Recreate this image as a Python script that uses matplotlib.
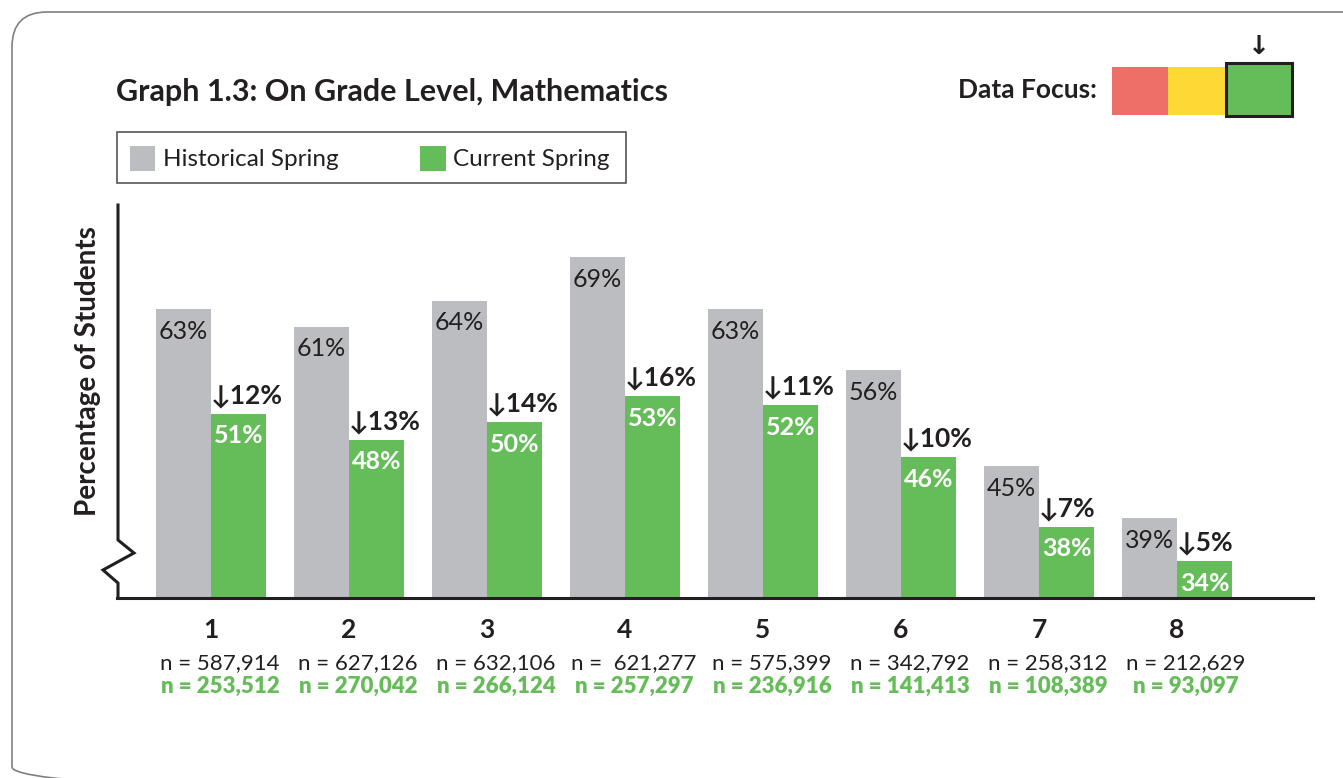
import numpy as np
import matplotlib.pyplot as plt
from matplotlib.patches import Rectangle, FancyBboxPatch

plt.rcParams["font.family"] = ["Lato", "DejaVu Sans"]

# data
grades = ["1", "2", "3", "4", "5", "6", "7", "8"]
historical = [63, 61, 64, 69, 63, 56, 45, 39]
current = [51, 48, 50, 53, 52, 46, 38, 34]
drops = [12, 13, 14, 16, 11, 10, 7, 5]
n_hist = ["587,914", "627,126", "632,106", " 621,277", "575,399", "342,792", "258,312", "212,629"]
n_curr = ["253,512", "270,042", "266,124", "257,297", "236,916", "141,413", "108,389", "93,097"]

GRAY = "#BCBDC0"
GREEN = "#65BD59"
GREEN_TXT = "#67BC5A"
RED = "#EE6F67"
YELLOW = "#FDD935"
DARK = "#231F20"

W, H = 1343, 778
fig = plt.figure(figsize=(W / 100, H / 100), dpi=100)

# pixel overlay for frame, title, legend
bg = fig.add_axes([0, 0, 1, 1])
bg.set_xlim(0, W)
bg.set_ylim(H, 0)
bg.axis("off")

bg.add_patch(FancyBboxPatch((12, 12), 1400, 790, boxstyle="round,pad=0,rounding_size=35",
                            fc="none", ec="#808080", lw=1.2))

bg.text(116, 92, "Graph 1.3: On Grade Level, Mathematics", fontsize=22, fontweight="bold",
        color=DARK, ha="left", va="center")

# data focus
bg.text(1097, 90, "Data Focus:", fontsize=19, fontweight="bold", color=DARK, ha="right", va="center")
bg.add_patch(Rectangle((1112, 67), 56, 48, fc=RED, ec="none"))
bg.add_patch(Rectangle((1168, 67), 58, 48, fc=YELLOW, ec="none"))
bg.add_patch(Rectangle((1226, 63), 66, 53, fc=GREEN, ec=DARK, lw=2.2))
bg.text(1259, 47, "↓", fontsize=19, fontweight="bold", color=DARK, ha="center", va="center",
        family="DejaVu Sans")

# legend
bg.add_patch(Rectangle((117, 132), 509, 51, fc="none", ec="#555555", lw=1.2))
bg.add_patch(Rectangle((130, 146), 25, 25, fc=GRAY, ec="none"))
bg.text(163, 159, "Historical Spring", fontsize=17.5, color=DARK, ha="left", va="center")
bg.add_patch(Rectangle((420, 146), 26, 25, fc=GREEN, ec="none"))
bg.text(453, 159, "Current Spring", fontsize=17.5, color=DARK, ha="left", va="center")

# y axis with break
bg.plot([118, 118, 134, 103, 118, 118], [205, 540, 553, 570, 583, 598], color=DARK, lw=2.2,
        solid_joinstyle="miter")
bg.text(88, 371, "Percentage of Students", fontsize=20, fontweight="bold", color=DARK,
        rotation=90, ha="center", va="center")

# main axes
ax = fig.add_axes([117 / W, (H - 598) / H, (1313 - 117) / W, (598 - 205) / H])
ax.patch.set_alpha(0)
x = np.arange(1, len(grades) + 1)
w = 0.4
ax.bar(x - w / 2, historical, w, color=GRAY)
ax.bar(x + w / 2, current, w, color=GREEN)
ax.set_xlim(0.319, 8.986)
ax.set_ylim(29.8, 75.0)
for s in ["top", "right", "left"]:
    ax.spines[s].set_visible(False)
ax.spines["bottom"].set_linewidth(2.2)
ax.spines["bottom"].set_color(DARK)
ax.set_xticks([])
ax.set_yticks([])

for xi, h, c, d in zip(x, historical, current, drops):
    ax.annotate(f"{h}%", (xi - w / 2, h), xytext=(0, -16), textcoords="offset points",
                ha="center", va="center", fontsize=18, color=DARK)
    ax.annotate(f"{c}%", (xi + w / 2, c), xytext=(0, -16), textcoords="offset points",
                ha="center", va="center", fontsize=18, fontweight="bold", color="white")
    ax.annotate(f"↓{d}%", (xi, c), xytext=(0, 13), textcoords="offset points",
                ha="left", va="center", fontsize=19, fontweight="bold", color=DARK)

tr = ax.get_xaxis_transform()
for xi, g, nh, nc in zip(x, grades, n_hist, n_curr):
    ax.text(xi, -0.081, g, transform=tr, ha="center", va="center", fontsize=19,
            fontweight="bold", color=DARK, clip_on=False)
    ax.text(xi + 0.065, -0.165, f"n = {nh}", transform=tr, ha="center", va="center", fontsize=16,
            color=DARK, clip_on=False)
    ax.text(xi + 0.065, -0.224, f"n = {nc}", transform=tr, ha="center", va="center", fontsize=16,
            fontweight="heavy", color=GREEN_TXT, clip_on=False)

fig.savefig("out.png", dpi=100)
